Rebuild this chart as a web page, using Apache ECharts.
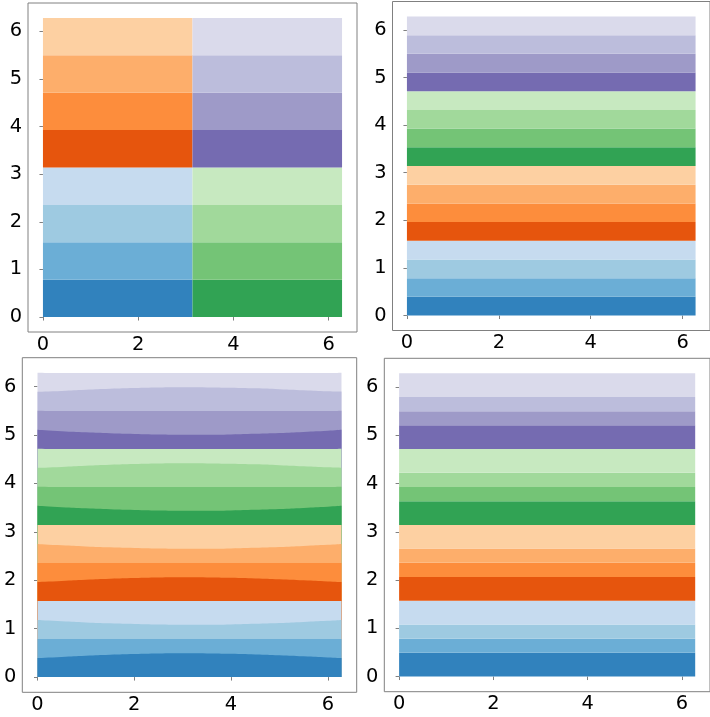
<!DOCTYPE html>
<html>
<head>
<meta charset="utf-8">
<script src="https://cdn.jsdelivr.net/npm/echarts@6/dist/echarts.min.js"></script>
<style>
  html, body { margin: 0; padding: 0; background: #fff; }
  #chart { width: 710px; height: 717px; }
</style>
</head>
<body>
<div id="chart"></div>
<script>
// Axis extents and tick positions shared by all four panels
const axisMin = -0.3142;
const axisMax = 6.5973;
const xTicks = [0, 2, 4, 6];
const yTicks = [0, 1, 2, 3, 4, 5, 6];

// Top-left: two columns, each split into eight equal segments
const tlColumnStarts = [0, 3.1416];
const tlColumnWidth = 3.1416;
const tlSegments = [0.7854, 0.7854, 0.7854, 0.7854, 0.7854, 0.7854, 0.7854, 0.7854];

// Top-right: sixteen equal full-width bands
const trBands = [0.3927, 0.3927, 0.3927, 0.3927, 0.3927, 0.3927, 0.3927, 0.3927,
                 0.3927, 0.3927, 0.3927, 0.3927, 0.3927, 0.3927, 0.3927, 0.3927];
const trSpan = [0, 6.2832];

// Bottom-right: sixteen bands of unequal height
const brBands = [0.491, 0.295, 0.295, 0.491, 0.491, 0.295, 0.295, 0.491,
                 0.491, 0.295, 0.295, 0.491, 0.491, 0.295, 0.295, 0.491];
const brSpan = [0, 6.2832];

// Bottom-left: band thickness varying along x
const blX      = [0, 0.5, 1, 1.5, 2, 2.5, 3, 3.5, 4, 4.5, 5, 5.5, 6, 6.2832];
const blWide   = [0.393, 0.417, 0.440, 0.460, 0.475, 0.486, 0.491, 0.489, 0.482, 0.469, 0.452, 0.430, 0.407, 0.393];
const blNarrow = [0.393, 0.368, 0.345, 0.325, 0.310, 0.299, 0.294, 0.296, 0.303, 0.316, 0.333, 0.355, 0.378, 0.393];
const blPattern = ['wide', 'narrow', 'narrow', 'wide', 'wide', 'narrow', 'narrow', 'wide',
                   'narrow', 'wide', 'wide', 'narrow', 'narrow', 'wide', 'wide', 'narrow'];

// tab20c: blue, orange, green, purple ramps
const palette = [
  '#3182bd', '#6baed6', '#9ecae1', '#c6dbef',
  '#e6550d', '#fd8d3c', '#fdae6b', '#fdd0a2',
  '#31a354', '#74c476', '#a1d99b', '#c7e9c0',
  '#756bb1', '#9e9ac8', '#bcbddc', '#dadaeb'
];

const grids = [
  { left: 28,    top: 3,     width: 329,   height: 329 },
  { left: 392.5, top: 1.5,   width: 329,   height: 329 },
  { left: 22.3,  top: 357.7, width: 334.4, height: 334.6 },
  { left: 384.3, top: 358.3, width: 334,   height: 333.4 }
];

const spineColor = '#808080';
const labelFont = { fontFamily: 'DejaVu Sans', fontSize: 19.4, color: '#000' };

function makeAxis(kind, idx) {
  const ticks = kind === 'x' ? xTicks : yTicks;
  return {
    type: 'value',
    gridIndex: idx,
    min: axisMin,
    max: axisMax,
    axisLine: { show: false },
    splitLine: { show: false },
    axisTick: { show: true, inside: false, length: 3.5, customValues: ticks,
                lineStyle: { color: spineColor, width: 1 } },
    axisLabel: Object.assign({ show: true, customValues: ticks,
                               margin: kind === 'x' ? 3 : 6,
                               formatter: v => String(v) }, labelFont)
  };
}

// Build rectangles [x0, x1, y0, y1] from stacked heights
function stackRects(heights, x0, x1, base) {
  const out = [];
  let y = base;
  heights.forEach(h => { out.push([x0, x1, y, y + h]); y += h; });
  return out;
}

const tlRects = [].concat(
  stackRects(tlSegments, tlColumnStarts[0], tlColumnStarts[0] + tlColumnWidth, 0),
  stackRects(tlSegments, tlColumnStarts[1], tlColumnStarts[1] + tlColumnWidth, 0)
);
const trRects = stackRects(trBands, trSpan[0], trSpan[1], 0);
const brRects = stackRects(brBands, brSpan[0], brSpan[1], 0);

function renderRect(params, api) {
  const a = api.coord([api.value(0), api.value(3)]);
  const b = api.coord([api.value(1), api.value(2)]);
  return {
    type: 'rect',
    shape: { x: a[0], y: a[1], width: b[0] - a[0], height: b[1] - a[1] },
    style: { fill: palette[params.dataIndex] }
  };
}

function rectSeries(data, idx) {
  return {
    type: 'custom',
    xAxisIndex: idx,
    yAxisIndex: idx,
    renderItem: renderRect,
    encode: { x: [0, 1], y: [2, 3] },
    data: data,
    silent: true
  };
}

// Bottom-left: cumulative upper edge of every band; each area fills down to zero,
// drawn from the top band downward so lower bands sit over higher ones.
const blTops = [];
blPattern.forEach((kind, i) => {
  const vals = kind === 'wide' ? blWide : blNarrow;
  const prev = i === 0 ? blX.map(() => 0) : blTops[i - 1];
  blTops.push(vals.map((v, j) => prev[j] + v));
});

const blSeries = [];
for (let i = blPattern.length - 1; i >= 0; i--) {
  blSeries.push({
    type: 'line',
    xAxisIndex: 2,
    yAxisIndex: 2,
    smooth: true,
    symbol: 'none',
    lineStyle: { width: 0 },
    areaStyle: { color: palette[i], opacity: 1, origin: 0 },
    itemStyle: { color: palette[i] },
    data: blX.map((x, j) => [x, blTops[i][j]]),
    silent: true
  });
}

const chart = echarts.init(document.getElementById('chart'), null, { renderer: 'canvas' });
chart.setOption({
  animation: false,
  backgroundColor: '#fff',
  grid: grids.map(g => Object.assign({ show: true, borderColor: spineColor, borderWidth: 1,
                                       backgroundColor: 'transparent', containLabel: false }, g)),
  xAxis: [0, 1, 2, 3].map(i => makeAxis('x', i)),
  yAxis: [0, 1, 2, 3].map(i => makeAxis('y', i)),
  series: [
    rectSeries(tlRects, 0),
    rectSeries(trRects, 1),
    rectSeries(brRects, 3)
  ].concat(blSeries)
});
</script>
</body>
</html>
